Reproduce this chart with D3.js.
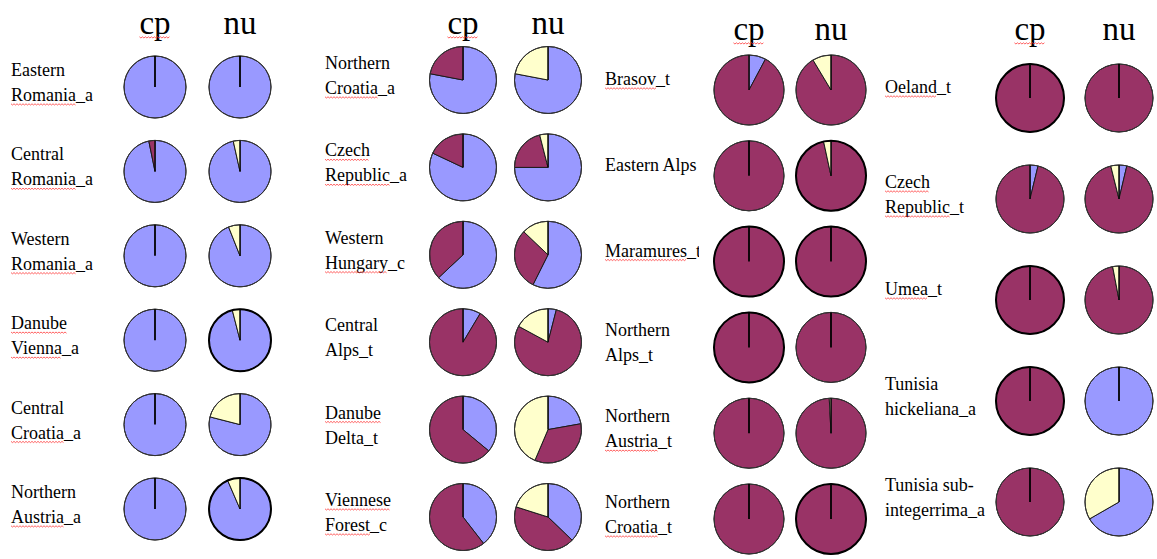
<!DOCTYPE html>
<html>
<head>
<meta charset="utf-8">
<script src="https://cdn.jsdelivr.net/npm/d3@7"></script>
<style>
  html, body { margin: 0; padding: 0; background: #ffffff; }
  svg { display: block; }
  text { font-family: "Liberation Serif", "Times New Roman", serif; fill: #000; }
</style>
</head>
<body>
<svg id="chart" width="1157" height="559"></svg>
<script>
// Column headings and slice groups (slices run clockwise from 12 o'clock in this order)
const measures = ["cp", "nu"];
const groups = ["group 1", "group 2", "group 3"];

// Panel 1
const labels1 = [["Eastern", "Romania_a"], ["Central", "Romania_a"], ["Western", "Romania_a"],
                 ["Danube", "Vienna_a"], ["Central", "Croatia_a"], ["Northern", "Austria_a"]];
const cp1 = [[1, 0, 0], [0.968, 0.032, 0], [1, 0, 0], [1, 0, 0], [1, 0, 0], [1, 0, 0]];
const nu1 = [[1, 0, 0], [0.965, 0, 0.035], [0.94, 0, 0.06], [0.96, 0, 0.04], [0.79, 0, 0.21], [0.935, 0, 0.065]];

// Panel 2
const labels2 = [["Northern", "Croatia_a"], ["Czech", "Republic_a"], ["Western", "Hungary_c"],
                 ["Central", "Alps_t"], ["Danube", "Delta_t"], ["Viennese", "Forest_c"]];
const cp2 = [[0.78, 0.22, 0], [0.82, 0.18, 0], [0.63, 0.37, 0], [0.086, 0.914, 0], [0.36, 0.64, 0], [0.395, 0.605, 0]];
const nu2 = [[0.78, 0, 0.22], [0.75, 0.21, 0.04], [0.574, 0.297, 0.129], [0.04, 0.789, 0.171], [0.222, 0.342, 0.436], [0.372, 0.427, 0.201]];

// Panel 3
const labels3 = [["Brasov_t"], ["Eastern Alps"], ["Maramures_t"],
                 ["Northern", "Alps_t"], ["Northern", "Austria_t"], ["Northern", "Croatia_t"]];
const cp3 = [[0.078, 0.922, 0], [0, 1, 0], [0, 1, 0], [0, 1, 0], [0, 1, 0], [0, 1, 0]];
const nu3 = [[0, 0.914, 0.086], [0, 0.966, 0.034], [0, 1, 0], [0, 1, 0], [0, 0.992, 0.008], [0, 1, 0]];

// Panel 4
const labels4 = [["Oeland_t"], ["Czech", "Republic_t"], ["Umea_t"],
                 ["Tunisia", "hickeliana_a"], ["Tunisia sub-", "integerrima_a"]];
const cp4 = [[0, 1, 0], [0.038, 0.962, 0], [0, 1, 0], [0, 1, 0], [0, 1, 0]];
const nu4 = [[0, 1, 0], [0.037, 0.924, 0.039], [0, 0.97, 0.03], [1, 0, 0], [0.667, 0, 0.333]];

// Words carrying a spell-check squiggle
const flagged = new Set(["cp", "Romania_a", "Danube", "Vienna_a", "Croatia_a", "Austria_a",
  "Czech", "Republic_a", "Hungary_c", "Viennese", "Forest_c", "Brasov_t", "Maramures_t",
  "Austria_t", "Croatia_t", "Oeland_t", "Republic_t", "Umea_t"]);

// ---- layout and style ----
const panels = [
  { labels: labels1, cp: cp1, nu: nu1, labelX: 11, cols: [155, 240], rows: [87, 509], r: 31, headY: 34, clip: null,
    bold: [[3, 1], [5, 1]] },
  { labels: labels2, cp: cp2, nu: nu2, labelX: 325, cols: [463, 548], rows: [80, 517], r: 33.5, headY: 34, clip: null,
    bold: [] },
  { labels: labels3, cp: cp3, nu: nu3, labelX: 605, cols: [749, 831], rows: [90, 519], r: 35, headY: 40, clip: [600, 699],
    bold: [[1, 1], [2, 0], [2, 1], [3, 0], [5, 1]] },
  { labels: labels4, cp: cp4, nu: nu4, labelX: 885, cols: [1030, 1119], rows: [98, 502], r: 34, headY: 40, clip: null,
    bold: [[0, 0], [2, 0], [3, 0]] }
];

const color = d3.scaleOrdinal().domain(groups).range(["#9999ff", "#993366", "#ffffcc"]);
const pie = d3.pie().sort(null).value(d => d.v);

const svg = d3.select("#chart");
const defs = svg.append("defs");

function squiggle(g, x0, x1, y) {
  const pts = [];
  for (let x = x0, i = 0; x <= x1; x += 1.5, i++) pts.push([x, y + (i % 2 ? 1 : -0.2)]);
  g.append("path").attr("d", d3.line()(pts)).attr("fill", "none")
    .attr("stroke", "#ff3b3b").attr("stroke-width", 0.8);
}

panels.forEach((p, pi) => {
  const g = svg.append("g");
  const x = d3.scalePoint().domain(measures).range(p.cols);
  const y = d3.scalePoint().domain(d3.range(p.labels.length)).range(p.rows);
  const arc = d3.arc().innerRadius(0).outerRadius(p.r);
  const boldSet = new Set(p.bold.map(d => d.join(",")));

  // column headings
  measures.forEach(m => {
    const t = g.append("text").attr("x", x(m)).attr("y", p.headY)
      .attr("text-anchor", "middle").attr("font-size", 33).text(m);
    if (flagged.has(m)) {
      const w = t.node().getComputedTextLength();
      squiggle(g, x(m) - w / 2, x(m) + w / 2, p.headY + 3);
    }
  });

  // row labels
  const lg = g.append("g");
  if (p.clip) {
    const id = "clip" + pi;
    defs.append("clipPath").attr("id", id).append("rect")
      .attr("x", p.clip[0]).attr("y", 0).attr("width", p.clip[1] - p.clip[0]).attr("height", 559);
    lg.attr("clip-path", `url(#${id})`);
  }
  p.labels.forEach((lines, ri) => {
    const cy = y(ri);
    const base = lines.length === 1 ? cy - 5 : cy - 11;
    lines.forEach((line, li) => {
      const by = base + li * 25;
      lg.append("text").attr("x", p.labelX).attr("y", by).attr("font-size", 18).text(line);
      line.split(" ").forEach((word, wi, arr) => {
        if (!flagged.has(word)) return;
        const before = arr.slice(0, wi).join(" ") + (wi ? " " : "");
        const stem = word.includes("_") ? word.slice(0, word.indexOf("_")) : word;
        const probe = lg.append("text").attr("font-size", 18).text(before);
        const off = before ? probe.node().getComputedTextLength() : 0;
        probe.text(before + stem);
        const end = probe.node().getComputedTextLength();
        probe.remove();
        squiggle(lg, p.labelX + off, p.labelX + end, by + 3);
      });
    });
  });

  // pies
  measures.forEach((m, mi) => {
    p[m].forEach((vals, ri) => {
      const pg = g.append("g").attr("transform", `translate(${x(m)},${y(ri)})`);
      const slices = pie(vals.map((v, i) => ({ g: groups[i], v })));
      pg.selectAll("path.slice").data(slices.filter(s => s.data.v > 0)).join("path")
        .attr("class", "slice")
        .attr("d", arc)
        .attr("fill", s => color(s.data.g))
        .attr("stroke", "#1a1a1a").attr("stroke-width", 1)
        .attr("stroke-linejoin", "round");
      const bold = boldSet.has(ri + "," + mi);
      pg.append("circle").attr("r", p.r).attr("fill", "none")
        .attr("stroke", bold ? "#000" : "#333").attr("stroke-width", bold ? 2 : 1);
      // start line at 12 o'clock
      const full = d3.max(vals) >= 0.999;
      pg.append("line").attr("x1", 0).attr("y1", 0).attr("x2", 0).attr("y2", -p.r)
        .attr("stroke", "#000").attr("stroke-width", full ? 1.8 : 1);
    });
  });
});
</script>
</body>
</html>
